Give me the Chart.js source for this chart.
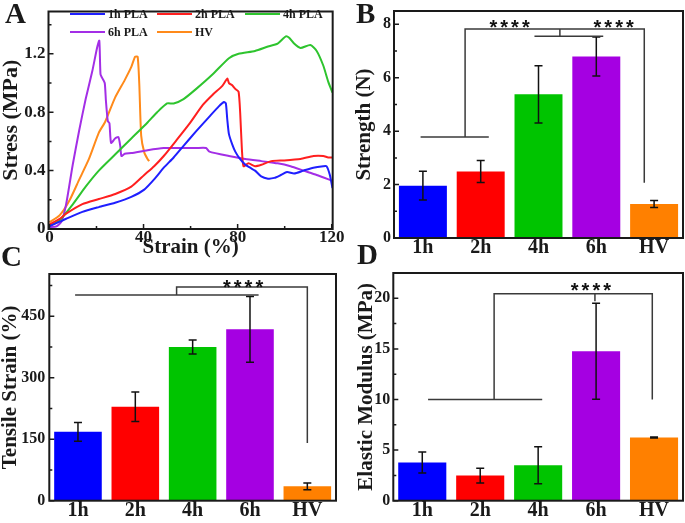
<!DOCTYPE html>
<html>
<head>
<meta charset="utf-8">
<title>PLA tensile tests</title>
<script src="https://cdn.jsdelivr.net/npm/chart.js@4.4.1/dist/chart.umd.min.js"></script>
<style>
  html, body { margin: 0; padding: 0; background: #fff; }
  #page { position: relative; width: 685px; height: 523px; overflow: hidden; background: #fff; }
  .panel { position: absolute; }
  .tag { position: absolute; font: bold 29px "Liberation Serif", serif; line-height: 1; color: #1a1a1a; }
</style>
</head>
<body>
<div id="page">
  <div class="panel" style="left:0;top:0;width:345px;height:262px"><canvas id="curveChart"></canvas></div>
  <div class="panel" style="left:340px;top:0;width:345px;height:262px"><canvas id="strengthChart"></canvas></div>
  <div class="panel" style="left:0;top:262px;width:345px;height:261px"><canvas id="tensileChart"></canvas></div>
  <div class="panel" style="left:340px;top:262px;width:345px;height:261px"><canvas id="modulusChart"></canvas></div>
  <div class="tag" style="left:5px;top:-1px">A</div>
  <div class="tag" style="left:356px;top:-1px">B</div>
  <div class="tag" style="left:1px;top:242px">C</div>
  <div class="tag" style="left:357px;top:240px">D</div>
</div>
<script>
// stress-strain curves (panel A)
const strain1h = [0, 4.4, 7.1, 14, 21, 27.9, 34.8, 40.3, 44.5, 48.6, 52.8, 57, 62.4, 68, 72, 74.2, 75, 75.6, 76.3, 77.7, 79, 81, 83.3, 85.3, 87.4, 90, 92.9, 95.6, 98.4, 101, 104, 108, 112.2, 116.4, 117.8, 119.2, 120.3];
const stress1h = [0.02, 0.05, 0.07, 0.117, 0.15, 0.18, 0.22, 0.27, 0.34, 0.42, 0.49, 0.57, 0.67, 0.77, 0.84, 0.87, 0.86, 0.75, 0.65, 0.58, 0.53, 0.48, 0.44, 0.42, 0.40, 0.36, 0.345, 0.35, 0.37, 0.39, 0.38, 0.40, 0.42, 0.43, 0.43, 0.37, 0.28];
const strain2h = [0, 4.4, 7.1, 14, 21, 28, 34.8, 40.3, 44.5, 48.6, 54.1, 59.7, 65.2, 69.4, 73.5, 75.6, 76.3, 77.7, 79, 80.4, 81.1, 81.8, 82.5, 84.6, 87.4, 90.1, 94.3, 99.8, 106.7, 112.3, 116.4, 118.5, 120.3];
const stress2h = [0.03, 0.07, 0.105, 0.17, 0.205, 0.24, 0.29, 0.37, 0.43, 0.50, 0.61, 0.725, 0.85, 0.92, 0.98, 1.03, 1.0, 0.985, 0.96, 0.94, 0.79, 0.55, 0.43, 0.45, 0.43, 0.44, 0.465, 0.47, 0.48, 0.50, 0.50, 0.49, 0.49];
const strain4h = [0, 4.4, 10, 15.4, 21, 27.9, 34.8, 41.7, 45.8, 50, 52.8, 57, 62.4, 69.4, 76.3, 80.4, 87.4, 92.9, 97, 100.5, 101.9, 104, 106.7, 110.9, 113.6, 116.4, 118.5, 120.3];
const stress4h = [0.02, 0.06, 0.17, 0.29, 0.40, 0.51, 0.62, 0.73, 0.80, 0.86, 0.86, 0.89, 0.96, 1.06, 1.17, 1.20, 1.22, 1.25, 1.27, 1.32, 1.31, 1.27, 1.24, 1.26, 1.22, 1.12, 1.01, 0.935];
const strain6h = [0, 3, 5.1, 7.1, 9.9, 12.7, 15.4, 18.2, 20.3, 21.2, 21.7, 22.4, 23.5, 24, 24.8, 25.5, 26.2, 27.9, 29.3, 30.1, 30.6, 32, 34.8, 41.7, 48.6, 55.5, 62.4, 66.6, 68, 76.3, 83.2, 90.1, 97, 102.5, 108, 113.6, 120.3];
const stress6h = [0.013, 0.018, 0.05, 0.17, 0.44, 0.68, 0.89, 1.08, 1.245, 1.29, 1.06, 1.035, 1.0, 0.88, 0.74, 0.725, 0.59, 0.62, 0.63, 0.57, 0.50, 0.515, 0.52, 0.54, 0.555, 0.555, 0.555, 0.555, 0.53, 0.50, 0.48, 0.465, 0.45, 0.43, 0.40, 0.37, 0.33];
const strainHV = [0, 4.4, 8.5, 12.7, 16.8, 21, 23.7, 27.9, 32, 34.8, 36.4, 37.5, 38.2, 39, 40.3, 41.7, 42.4];
const stressHV = [0.045, 0.095, 0.195, 0.34, 0.48, 0.66, 0.735, 0.90, 1.02, 1.11, 1.18, 1.18, 0.99, 0.64, 0.525, 0.48, 0.465];
const curveNames = ['1h PLA', '2h PLA', '4h PLA', '6h PLA', 'HV'];
const stressTicks = [0, 0.4, 0.8, 1.2];
const strainTicks = [0, 40, 80, 120];

// bar summaries (panels B-D)
const groups = ['1h', '2h', '4h', '6h', 'HV'];
const strengthMean = [1.96, 2.49, 5.38, 6.80, 1.27];
const strengthSD = [0.54, 0.41, 1.07, 0.73, 0.13];
const tensileMean = [168, 229, 375, 418, 35];
const tensileSD = [23, 36, 17, 80, 8];
const modulusMean = [3.77, 2.48, 3.51, 14.77, 6.25];
const modulusSD = [1.03, 0.72, 1.83, 4.75, 0.05];
const strengthTicks = [0, 2, 4, 6, 8];
const tensileTicks = [0, 150, 300, 450];
const modulusTicks = [0, 5, 10, 15, 20];

const serif = '"Liberation Serif", "Times New Roman", serif';
const ink = '#1a1a1a';
const lineColors = ['#1f1fff', '#ff1f1f', '#2ec42e', '#a32ee6', '#ff8a1a'];
const barColors = ['#0000ff', '#ff0000', '#00c400', '#a500e2', '#ff8000'];

function pairs(xs, ys) {
  return xs.map((v, i) => ({ x: v, y: ys[i] }));
}

// frame, inward ticks, error bars, significance brackets, legend
function makeDecor(cfg) {
  return {
    id: 'decor',
    afterDatasetsDraw(chart) {
      const { ctx, scales: { x, y } } = chart;
      ctx.save();
      if (cfg.means) {
        ctx.strokeStyle = '#111';
        ctx.lineWidth = 1.5;
        cfg.means.forEach((m, i) => {
          const px = x.getPixelForValue(i);
          const t = y.getPixelForValue(m + cfg.sd[i]);
          const b = y.getPixelForValue(m - cfg.sd[i]);
          ctx.beginPath();
          ctx.moveTo(px, t); ctx.lineTo(px, b);
          ctx.moveTo(px - 4, t); ctx.lineTo(px + 4, t);
          ctx.moveTo(px - 4, b); ctx.lineTo(px + 4, b);
          ctx.stroke();
        });
      }
      if (cfg.brackets) {
        ctx.strokeStyle = '#3a3a3a';
        ctx.lineWidth = 1.5;
        cfg.brackets.forEach(path => {
          ctx.beginPath();
          path.forEach(([i, v], k) => {
            const px = x.getPixelForValue(i), py = y.getPixelForValue(v);
            k ? ctx.lineTo(px, py) : ctx.moveTo(px, py);
          });
          ctx.stroke();
        });
        ctx.fillStyle = '#111';
        ctx.font = 'bold 20px "Liberation Sans", Arial, sans-serif';
        ctx.textAlign = 'center';
        ctx.textBaseline = 'alphabetic';
        if ('letterSpacing' in ctx) ctx.letterSpacing = '3px';
        cfg.stars.forEach(([i, v]) => {
          ctx.fillText('****', x.getPixelForValue(i) + 1.5, y.getPixelForValue(v) + 11);
        });
      }
      ctx.restore();
    },
    afterDraw(chart) {
      const { ctx, chartArea: a, scales: { x, y } } = chart;
      ctx.save();
      ctx.strokeStyle = ink;
      ctx.lineWidth = 1.5;
      ctx.beginPath();
      cfg.yTicks.forEach(v => { const p = y.getPixelForValue(v); ctx.moveTo(a.left, p); ctx.lineTo(a.left + 5, p); });
      cfg.yMinor.forEach(v => { const p = y.getPixelForValue(v); ctx.moveTo(a.left, p); ctx.lineTo(a.left + 3, p); });
      (cfg.xTicks || []).forEach(v => { const p = x.getPixelForValue(v); ctx.moveTo(p, a.bottom); ctx.lineTo(p, a.bottom - 5); });
      (cfg.xMinor || []).forEach(v => { const p = x.getPixelForValue(v); ctx.moveTo(p, a.bottom); ctx.lineTo(p, a.bottom - 3); });
      ctx.stroke();
      ctx.lineWidth = 2;
      ctx.strokeRect(a.left, a.top, a.right - a.left, a.bottom - a.top);
      if (cfg.legend) {
        const cols = [70, 157, 245], rows = [14, 32];
        ctx.font = 'bold 12px ' + serif;
        ctx.textBaseline = 'middle';
        ctx.fillStyle = ink;
        ctx.lineWidth = 2;
        cfg.legend.forEach((name, i) => {
          const lx = cols[i % 3], ly = rows[Math.floor(i / 3)];
          ctx.strokeStyle = lineColors[i];
          ctx.beginPath(); ctx.moveTo(lx, ly); ctx.lineTo(lx + 35, ly); ctx.stroke();
          ctx.fillText(name, lx + 38, ly + 1);
        });
      }
      ctx.restore();
    }
  };
}

function font(size) {
  return { family: serif, size: size, weight: 'bold', lineHeight: 1 };
}

// Panel A
new Chart(document.getElementById('curveChart'), {
  type: 'line',
  data: {
    datasets: [
      pairs(strain1h, stress1h), pairs(strain2h, stress2h), pairs(strain4h, stress4h),
      pairs(strain6h, stress6h), pairs(strainHV, stressHV)
    ].map((d, i) => ({
      label: curveNames[i], data: d, borderColor: lineColors[i], borderWidth: 2,
      pointRadius: 0, tension: 0.2, fill: false
    }))
  },
  options: {
    responsive: true, maintainAspectRatio: false, animation: false,
    layout: { padding: { left: 0, top: 4, right: 5, bottom: 0 } },
    plugins: { legend: { display: false }, tooltip: { enabled: false } },
    scales: {
      x: {
        type: 'linear', min: -0.4, max: 120.4,
        afterBuildTicks: s => { s.ticks = strainTicks.map(v => ({ value: v })); },
        grid: { display: false, drawTicks: false }, border: { display: false },
        ticks: { font: font(17), color: ink, padding: 0.5, autoSkip: false, maxRotation: 0, callback: v => String(v) },
        title: { display: true, text: 'Strain (%)', font: font(21), color: ink, padding: { top: 0, bottom: 3.5 } },
        afterFit: s => { s.height = 33; }
      },
      y: {
        min: 0, max: 1.49,
        afterBuildTicks: s => { s.ticks = stressTicks.map(v => ({ value: v })); },
        grid: { display: false, drawTicks: false }, border: { display: false },
        ticks: { font: font(17), color: ink, padding: 3, callback: v => String(v) },
        title: { display: true, text: 'Stress (MPa)', font: font(22), color: ink, padding: { top: 0, bottom: 0 } },
        afterFit: s => { s.width = 48.5; }
      }
    }
  },
  plugins: [makeDecor({
    yTicks: stressTicks, yMinor: [0.2, 0.6, 1.0, 1.4],
    xTicks: strainTicks, xMinor: [20, 60, 100],
    legend: curveNames
  })]
});

function barPanel(id, means, sd, yMax, ticks, minor, yTitle, yWidth, titlePad, labelPad, pad, xHeight, brackets, stars) {
  new Chart(document.getElementById(id), {
    type: 'bar',
    data: {
      labels: groups,
      datasets: [{ data: means, backgroundColor: barColors, borderWidth: 0, barPercentage: 0.83, categoryPercentage: 1 }]
    },
    options: {
      responsive: true, maintainAspectRatio: false, animation: false,
      layout: { padding: pad },
      plugins: { legend: { display: false }, tooltip: { enabled: false } },
      scales: {
        x: {
          grid: { display: false, drawTicks: false }, border: { display: false },
          ticks: { font: font(20), color: ink, padding: 0, maxRotation: 0 },
          afterFit: s => { s.height = xHeight; }
        },
        y: {
          min: 0, max: yMax,
          afterBuildTicks: s => { s.ticks = ticks.map(v => ({ value: v })); },
          grid: { display: false, drawTicks: false }, border: { display: false },
          ticks: { font: font(16), color: ink, padding: labelPad, callback: v => String(v) },
          title: { display: true, text: yTitle, font: font(21), color: ink, padding: { top: titlePad, bottom: 0 } },
          afterFit: s => { s.width = yWidth; }
        }
      }
    },
    plugins: [makeDecor({ yTicks: ticks, yMinor: minor, means: means, sd: sd, brackets: brackets, stars: stars })]
  });
}

// Panel B
barPanel('strengthChart', strengthMean, strengthSD, 8.5, strengthTicks, [1, 3, 5, 7],
  'Strength (N)', 54, 14.5, 3, { left: 0, top: 4.3, right: 2, bottom: 0 }, 24,
  [
    [[-0.04, 3.78], [1.14, 3.78]],
    [[0.73, 3.78], [0.73, 7.83], [3.83, 7.83], [3.83, 2.07]],
    [[1.93, 7.55], [3.12, 7.55]],
    [[2.37, 7.55], [2.37, 7.83]]
  ],
  [[1.5, 8.05], [3.3, 8.05]]);

// Panel C
barPanel('tensileChart', tensileMean, tensileSD, 553, tensileTicks, [75, 225, 375, 525],
  'Tensile Strain (%)', 49.3, 0, 4, { left: 0, top: 5.3, right: 9, bottom: 0 }, 22.3,
  [
    [[-0.05, 502], [3.15, 502]],
    [[1.72, 502], [1.72, 521], [4.0, 521], [4.0, 141]]
  ],
  [[2.88, 532]]);

// Panel D
barPanel('modulusChart', modulusMean, modulusSD, 22.5, modulusTicks, [2.5, 7.5, 12.5, 17.5],
  'Elastic Modulus (MPa)', 53.3, 16.5, 3, { left: 0, top: 5.3, right: 2, bottom: 0 }, 22.3,
  [
    [[0.10, 10], [2.07, 10]],
    [[1.24, 10], [1.24, 20.46], [3.97, 20.46], [3.97, 10]],
    [[2.98, 20.46], [2.98, 19.7]]
  ],
  [[2.91, 21.2]]);
</script>
</body>
</html>
